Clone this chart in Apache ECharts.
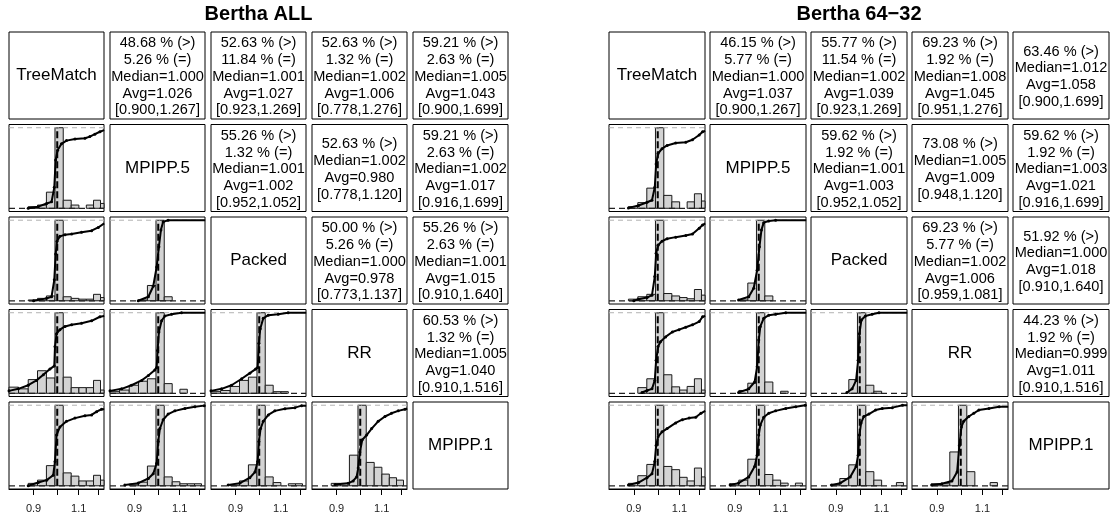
<!DOCTYPE html>
<html><head><meta charset="utf-8">
<script src="https://cdn.jsdelivr.net/npm/echarts@6/dist/echarts.min.js"></script>
<style>html,body{margin:0;padding:0;background:#fff}#c{width:1113px;height:523px}</style>
</head><body><div id="c"></div>
<script>
// ---------------- data ----------------
const methods = ['TreeMatch', 'MPIPP.5', 'Packed', 'RR', 'MPIPP.1'];
const titleAll = 'Bertha ALL';
const title64 = 'Bertha 64\u221232';
const binEdges = [0.805, 0.842, 0.879, 0.916, 0.953, 0.990, 1.027, 1.064, 1.101, 1.138, 1.175, 1.212, 1.249];
const xTicks = [0.9, 1.0, 1.1, 1.2];
const xTickLabels = [0.9, 1.1];
const xRange = [0.807, 1.231];

// Bertha ALL: histogram heights (relative to tallest bin) and ECDF points [ratio, F]
const histAll_MP5_TM = [0, 0, 0.02, 0.04, 0.20, 1, 0.10, 0.04, 0, 0.04, 0.10, 0.06];
const ecdfAll_MP5_TM = [[0.879,0],[0.919,0.02],[0.954,0.06],[0.975,0.08],[0.987,0.26],[0.993,0.6],[1.0015,0.72],[1.019,0.8],[1.042,0.84],[1.082,0.86],[1.131,0.87],[1.156,0.89],[1.182,0.92],[1.209,0.95],[1.232,0.97]];
const histAll_PK_TM = [0, 0, 0.01, 0.03, 0.06, 1, 0.05, 0.03, 0.02, 0.02, 0.08, 0.04];
const ecdfAll_PK_TM = [[0.90,0],[0.954,0.03],[0.975,0.05],[0.987,0.26],[0.993,0.58],[0.999,0.74],[1.012,0.8],[1.035,0.82],[1.066,0.83],[1.114,0.85],[1.165,0.87],[1.2,0.91],[1.232,0.96]];
const histAll_PK_MP5 = [0, 0, 0, 0.01, 0.19, 1, 0.05, 0, 0, 0, 0, 0];
const ecdfAll_PK_MP5 = [[0.915,0],[0.957,0.05],[0.978,0.18],[0.993,0.42],[1.003,0.67],[1.012,0.88],[1.022,0.98],[1.045,1.0],[1.232,1.0]];
const histAll_RR_TM = [0.076, 0.055, 0.17, 0.28, 0.19, 1, 0.2, 0.07, 0.07, 0.07, 0.16, 0.04];
const ecdfAll_RR_TM = [[0.807,0.03],[0.841,0.055],[0.879,0.1],[0.912,0.16],[0.940,0.23],[0.968,0.3],[0.987,0.34],[0.990,0.58],[0.997,0.74],[1.012,0.79],[1.035,0.83],[1.066,0.85],[1.114,0.87],[1.165,0.9],[1.209,0.95],[1.232,0.96]];
const histAll_RR_MP5 = [0.02, 0.04, 0.10, 0.15, 0.18, 1, 0.12, 0, 0.05, 0, 0, 0];
const ecdfAll_RR_MP5 = [[0.807,0.03],[0.85,0.055],[0.888,0.1],[0.929,0.16],[0.957,0.22],[0.985,0.29],[0.993,0.32],[0.997,0.53],[1.003,0.76],[1.015,0.9],[1.03,0.96],[1.061,0.98],[1.109,1.0],[1.232,1.0]];
const histAll_RR_PK = [0.02, 0.035, 0.085, 0.16, 0.2, 1, 0.1, 0.02, 0.02, 0, 0, 0];
const ecdfAll_RR_PK = [[0.807,0.03],[0.846,0.055],[0.884,0.1],[0.925,0.18],[0.959,0.25],[0.984,0.3],[0.993,0.32],[0.9985,0.62],[1.0045,0.8],[1.018,0.93],[1.041,0.97],[1.088,0.98],[1.137,1.0],[1.232,1.0]];
const histAll_M1_TM = [0, 0, 0.03, 0.07, 0.25, 1, 0.16, 0.12, 0.06, 0.06, 0.13, 0.07];
const ecdfAll_M1_TM = [[0.879,0],[0.919,0.04],[0.954,0.07],[0.982,0.13],[0.990,0.30],[0.997,0.63],[1.012,0.73],[1.042,0.80],[1.082,0.84],[1.131,0.87],[1.165,0.88],[1.191,0.92],[1.218,0.95],[1.232,0.95]];
const histAll_M1_MP5 = [0, 0, 0.02, 0.045, 0.245, 1, 0.11, 0.05, 0.025, 0.025, 0.025, 0];
const ecdfAll_M1_MP5 = [[0.862,0.01],[0.915,0.033],[0.957,0.09],[0.978,0.15],[0.993,0.28],[1.0,0.55],[1.0074,0.71],[1.022,0.82],[1.045,0.89],[1.077,0.93],[1.126,0.96],[1.177,0.98],[1.227,0.995]];
const histAll_M1_PK = [0, 0, 0.01, 0.06, 0.26, 1, 0.11, 0.04, 0, 0.025, 0.025, 0];
const ecdfAll_M1_PK = [[0.871,0.01],[0.918,0.033],[0.959,0.1],[0.981,0.17],[0.993,0.3],[0.9985,0.55],[1.006,0.71],[1.018,0.8],[1.041,0.88],[1.072,0.93],[1.121,0.955],[1.172,0.97],[1.207,0.995],[1.232,0.995]];
const histAll_M1_RR = [0, 0, 0.03, 0.03, 0.38, 1, 0.29, 0.23, 0.145, 0.1, 0.07, 0];
const ecdfAll_M1_RR = [[0.894,0.015],[0.948,0.03],[0.969,0.06],[0.984,0.11],[0.991,0.22],[0.9985,0.42],[1.009,0.57],[1.029,0.63],[1.052,0.71],[1.083,0.8],[1.116,0.86],[1.149,0.9],[1.184,0.93],[1.22,0.95],[1.232,0.96]];

// Bertha 64-32
const hist64_MP5_TM = [0, 0, 0.02, 0.07, 0.25, 1, 0.16, 0.08, 0, 0.08, 0.18, 0.09];
const ecdf64_MP5_TM = [[0.879,0.005],[0.919,0.035],[0.954,0.075],[0.975,0.1],[0.987,0.26],[0.993,0.55],[1.0015,0.68],[1.019,0.74],[1.042,0.78],[1.082,0.81],[1.131,0.82],[1.165,0.85],[1.2,0.91],[1.218,0.95],[1.232,0.96]];
const hist64_PK_TM = [0, 0, 0.02, 0.05, 0.08, 1, 0.09, 0.06, 0.04, 0.025, 0.14, 0.07];
const ecdf64_PK_TM = [[0.90,0],[0.919,0.02],[0.954,0.04],[0.975,0.07],[0.987,0.3],[0.993,0.59],[1.0015,0.69],[1.019,0.74],[1.042,0.77],[1.082,0.79],[1.131,0.81],[1.165,0.83],[1.2,0.9],[1.218,0.94],[1.232,0.96]];
const hist64_PK_MP5 = [0, 0, 0, 0.01, 0.22, 1, 0.06, 0, 0, 0, 0, 0];
const ecdf64_PK_MP5 = [[0.915,0.01],[0.957,0.05],[0.978,0.155],[0.993,0.38],[1.003,0.67],[1.012,0.88],[1.022,0.97],[1.045,0.99],[1.077,1.0],[1.232,1.0]];
const hist64_RR_TM = [0, 0, 0, 0.07, 0.18, 1, 0.23, 0.08, 0.04, 0.085, 0.18, 0.04];
const ecdf64_RR_TM = [[0.933,0.01],[0.954,0.035],[0.975,0.055],[0.987,0.16],[0.993,0.41],[1.0015,0.58],[1.012,0.64],[1.035,0.7],[1.066,0.76],[1.098,0.79],[1.131,0.82],[1.165,0.85],[1.2,0.89],[1.218,0.95],[1.232,0.96]];
const hist64_RR_MP5 = [0, 0, 0, 0.035, 0.125, 1, 0.14, 0, 0.025, 0, 0, 0];
const ecdf64_RR_MP5 = [[0.915,0.01],[0.957,0.055],[0.982,0.14],[0.993,0.33],[1.0,0.66],[1.007,0.83],[1.022,0.93],[1.045,0.97],[1.077,0.98],[1.126,1.0],[1.232,1.0]];
const hist64_RR_PK = [0, 0, 0, 0, 0.17, 1, 0.1, 0.025, 0, 0, 0, 0];
const ecdf64_RR_PK = [[0.945,0.01],[0.967,0.055],[0.984,0.16],[0.993,0.41],[0.9985,0.74],[1.0074,0.91],[1.025,0.96],[1.056,0.98],[1.088,1.0],[1.232,1.0]];
const hist64_M1_TM = [0, 0, 0.03, 0.125, 0.265, 1, 0.24, 0.2, 0.105, 0.06, 0.22, 0.11];
const ecdf64_M1_TM = [[0.879,0.01],[0.919,0.04],[0.954,0.1],[0.975,0.15],[0.987,0.3],[0.993,0.5],[1.0015,0.61],[1.019,0.67],[1.042,0.71],[1.082,0.78],[1.114,0.82],[1.148,0.84],[1.182,0.85],[1.209,0.9],[1.232,0.93]];
const hist64_M1_MP5 = [0, 0, 0.025, 0.07, 0.33, 1, 0.14, 0.07, 0.033, 0, 0.033, 0];
const ecdf64_M1_MP5 = [[0.882,0.01],[0.915,0.033],[0.957,0.11],[0.982,0.24],[0.993,0.38],[1.0,0.63],[1.007,0.755],[1.022,0.85],[1.045,0.9],[1.077,0.93],[1.126,0.96],[1.177,0.98],[1.227,1.0],[1.232,1.0]];
const hist64_M1_PK = [0, 0, 0.017, 0.09, 0.26, 1, 0.175, 0.07, 0, 0, 0.04, 0];
const ecdf64_M1_PK = [[0.884,0.01],[0.918,0.033],[0.959,0.11],[0.984,0.24],[0.993,0.38],[0.9985,0.63],[1.006,0.78],[1.018,0.86],[1.041,0.89],[1.072,0.94],[1.104,0.96],[1.154,0.97],[1.207,1.0],[1.232,1.0]];
const hist64_M1_RR = [0, 0, 0.025, 0.025, 0.42, 1, 0.175, 0, 0, 0.04, 0, 0];
const ecdf64_M1_RR = [[0.88,0.01],[0.92,0.025],[0.962,0.06],[0.984,0.17],[0.994,0.5],[1.003,0.73],[1.013,0.8],[1.036,0.86],[1.059,0.9],[1.083,0.94],[1.132,0.96],[1.184,0.98],[1.232,0.98]];

// statistic texts (upper triangle)
const statsAll_TM_MP5 = ['48.68 % (>)', '5.26 % (=)', 'Median=1.000', 'Avg=1.026', '[0.900,1.267]'];
const statsAll_TM_PK  = ['52.63 % (>)', '11.84 % (=)', 'Median=1.001', 'Avg=1.027', '[0.923,1.269]'];
const statsAll_TM_RR  = ['52.63 % (>)', '1.32 % (=)', 'Median=1.002', 'Avg=1.006', '[0.778,1.276]'];
const statsAll_TM_M1  = ['59.21 % (>)', '2.63 % (=)', 'Median=1.005', 'Avg=1.043', '[0.900,1.699]'];
const statsAll_MP5_PK = ['55.26 % (>)', '1.32 % (=)', 'Median=1.001', 'Avg=1.002', '[0.952,1.052]'];
const statsAll_MP5_RR = ['52.63 % (>)', 'Median=1.002', 'Avg=0.980', '[0.778,1.120]'];
const statsAll_MP5_M1 = ['59.21 % (>)', '2.63 % (=)', 'Median=1.002', 'Avg=1.017', '[0.916,1.699]'];
const statsAll_PK_RR  = ['50.00 % (>)', '5.26 % (=)', 'Median=1.000', 'Avg=0.978', '[0.773,1.137]'];
const statsAll_PK_M1  = ['55.26 % (>)', '2.63 % (=)', 'Median=1.001', 'Avg=1.015', '[0.910,1.640]'];
const statsAll_RR_M1  = ['60.53 % (>)', '1.32 % (=)', 'Median=1.005', 'Avg=1.040', '[0.910,1.516]'];

const stats64_TM_MP5 = ['46.15 % (>)', '5.77 % (=)', 'Median=1.000', 'Avg=1.037', '[0.900,1.267]'];
const stats64_TM_PK  = ['55.77 % (>)', '11.54 % (=)', 'Median=1.002', 'Avg=1.039', '[0.923,1.269]'];
const stats64_TM_RR  = ['69.23 % (>)', '1.92 % (=)', 'Median=1.008', 'Avg=1.045', '[0.951,1.276]'];
const stats64_TM_M1  = ['63.46 % (>)', 'Median=1.012', 'Avg=1.058', '[0.900,1.699]'];
const stats64_MP5_PK = ['59.62 % (>)', '1.92 % (=)', 'Median=1.001', 'Avg=1.003', '[0.952,1.052]'];
const stats64_MP5_RR = ['73.08 % (>)', 'Median=1.005', 'Avg=1.009', '[0.948,1.120]'];
const stats64_MP5_M1 = ['59.62 % (>)', '1.92 % (=)', 'Median=1.003', 'Avg=1.021', '[0.916,1.699]'];
const stats64_PK_RR  = ['69.23 % (>)', '5.77 % (=)', 'Median=1.002', 'Avg=1.006', '[0.959,1.081]'];
const stats64_PK_M1  = ['51.92 % (>)', 'Median=1.000', 'Avg=1.018', '[0.910,1.640]'];
const stats64_RR_M1  = ['44.23 % (>)', '1.92 % (=)', 'Median=0.999', 'Avg=1.011', '[0.910,1.516]'];

// ---------------- assembly ----------------
const matrices = [
  { title: titleAll, cols: [9, 110, 211, 312, 413], w: 95,
    lower: { '1,0': [histAll_MP5_TM, ecdfAll_MP5_TM], '2,0': [histAll_PK_TM, ecdfAll_PK_TM], '2,1': [histAll_PK_MP5, ecdfAll_PK_MP5],
             '3,0': [histAll_RR_TM, ecdfAll_RR_TM], '3,1': [histAll_RR_MP5, ecdfAll_RR_MP5], '3,2': [histAll_RR_PK, ecdfAll_RR_PK],
             '4,0': [histAll_M1_TM, ecdfAll_M1_TM], '4,1': [histAll_M1_MP5, ecdfAll_M1_MP5], '4,2': [histAll_M1_PK, ecdfAll_M1_PK], '4,3': [histAll_M1_RR, ecdfAll_M1_RR] },
    upper: { '0,1': statsAll_TM_MP5, '0,2': statsAll_TM_PK, '0,3': statsAll_TM_RR, '0,4': statsAll_TM_M1,
             '1,2': statsAll_MP5_PK, '1,3': statsAll_MP5_RR, '1,4': statsAll_MP5_M1,
             '2,3': statsAll_PK_RR, '2,4': statsAll_PK_M1, '3,4': statsAll_RR_M1 } },
  { title: title64, cols: [609, 710, 811, 912, 1013], w: 96,
    lower: { '1,0': [hist64_MP5_TM, ecdf64_MP5_TM], '2,0': [hist64_PK_TM, ecdf64_PK_TM], '2,1': [hist64_PK_MP5, ecdf64_PK_MP5],
             '3,0': [hist64_RR_TM, ecdf64_RR_TM], '3,1': [hist64_RR_MP5, ecdf64_RR_MP5], '3,2': [hist64_RR_PK, ecdf64_RR_PK],
             '4,0': [hist64_M1_TM, ecdf64_M1_TM], '4,1': [hist64_M1_MP5, ecdf64_M1_MP5], '4,2': [hist64_M1_PK, ecdf64_M1_PK], '4,3': [hist64_M1_RR, ecdf64_M1_RR] },
    upper: { '0,1': stats64_TM_MP5, '0,2': stats64_TM_PK, '0,3': stats64_TM_RR, '0,4': stats64_TM_M1,
             '1,2': stats64_MP5_PK, '1,3': stats64_MP5_RR, '1,4': stats64_MP5_M1,
             '2,3': stats64_PK_RR, '2,4': stats64_PK_M1, '3,4': stats64_RR_M1 } }
];
const rowsY = [32, 124.5, 217, 309.5, 402];
const cellH = 87;
const FONT = '"Liberation Sans", Arial, Helvetica, sans-serif';
const XMIN = Math.log(xRange[0]), XMAX = Math.log(xRange[1]);

const grid = [], xAxis = [], yAxis = [], series = [], graphic = [];

function histRender(params, api) {
  const h = api.value(2);
  if (!(h > 0)) return null;
  const p0 = api.coord([api.value(0), 0]);
  const p1 = api.coord([api.value(1), h]);
  const cs = params.coordSys;
  const r = echarts.graphic.clipRectByRect(
    { x: p0[0], y: p1[1], width: p1[0] - p0[0], height: p0[1] - p1[1] },
    { x: cs.x, y: cs.y, width: cs.width, height: cs.height });
  if (!r) return null;
  return { type: 'rect', shape: r, style: { fill: '#d3d3d3', stroke: '#1a1a1a', lineWidth: 1 } };
}

matrices.forEach(m => {
  const x0 = m.cols[0], x1 = m.cols[4] + m.w;
  graphic.push({ type: 'text', x: (x0 + x1) / 2, y: 14,
    style: { text: m.title, font: 'bold 20px ' + FONT, fill: '#000', align: 'center', verticalAlign: 'middle', textAlign: 'center', textVerticalAlign: 'middle' } });
  for (let r = 0; r < 5; r++) {
    for (let c = 0; c < 5; c++) {
      const left = m.cols[c], top = rowsY[r], w = m.w;
      const key = r + ',' + c;
      if (r > c) {
        const gi = grid.length;
        const [hist, ecdf] = m.lower[key];
        grid.push({ left: left, top: top, width: w, height: cellH, show: true, borderColor: '#000', borderWidth: 1, backgroundColor: '#fff' });
        const bottom = r === 4;
        xAxis.push({ type: 'value', gridIndex: gi, min: XMIN, max: XMAX, show: bottom,
          axisLine: { show: true, onZero: false, lineStyle: { color: '#000', width: 1 } },
          axisTick: { show: true, length: 6, customValues: xTicks.map(Math.log), lineStyle: { color: '#000', width: 1 } },
          axisLabel: { show: true, customValues: xTickLabels.map(Math.log), formatter: v => Math.exp(v).toFixed(1), fontSize: 11, fontFamily: FONT, color: '#222', margin: 14 },
          splitLine: { show: false } });
        yAxis.push({ type: 'value', gridIndex: gi, min: -0.04, max: 1.04, show: false, splitLine: { show: false } });
        const bars = hist.map((h, i) => [Math.log(binEdges[i]), Math.log(binEdges[i + 1]), h]);
        series.push({ type: 'custom', xAxisIndex: gi, yAxisIndex: gi, renderItem: histRender, data: bars, encode: { x: [0, 1], y: 2 }, silent: true });
        series.push({ type: 'line', xAxisIndex: gi, yAxisIndex: gi, data: [[XMIN, 1], [XMAX, 1]], symbol: 'none', silent: true,
          lineStyle: { color: '#b3b3b3', width: 1, type: [5, 4] } });
        series.push({ type: 'line', xAxisIndex: gi, yAxisIndex: gi, data: [[XMIN, 0], [XMAX, 0]], symbol: 'none', silent: true,
          lineStyle: { color: '#222', width: 1.2, type: [6, 4] } });
        series.push({ type: 'line', xAxisIndex: gi, yAxisIndex: gi, data: [[0, 0], [0, 1]], symbol: 'none', silent: true,
          lineStyle: { color: '#000', width: 2, type: [7, 3] } });
        series.push({ type: 'line', xAxisIndex: gi, yAxisIndex: gi, data: ecdf.map(p => [Math.log(p[0]), p[1]]), silent: true,
          symbol: 'circle', symbolSize: 3, showSymbol: true, itemStyle: { color: '#000' },
          lineStyle: { color: '#000', width: 2 } });
      } else {
        graphic.push({ type: 'rect', shape: { x: left, y: top, width: w, height: cellH },
          style: { fill: '#fff', stroke: '#000', lineWidth: 1 } });
        const isDiag = r === c;
        const txt = isDiag ? methods[r] : m.upper[key].join('\n');
        graphic.push({ type: 'text', x: left + w / 2, y: top + cellH / 2 + (isDiag ? 0 : 1.5),
          scaleX: isDiag ? 1 : 1.04,
          style: { text: txt, font: (isDiag ? '17px ' : '14px ') + FONT, fill: '#000', lineHeight: 16.8,
            align: 'center', verticalAlign: 'middle', textAlign: 'center', textVerticalAlign: 'middle' } });
      }
    }
  }
});

const chart = echarts.init(document.getElementById('c'), null, { renderer: 'canvas' });
chart.setOption({ animation: false, backgroundColor: '#fff', grid, xAxis, yAxis, series, graphic });
</script></body></html>
